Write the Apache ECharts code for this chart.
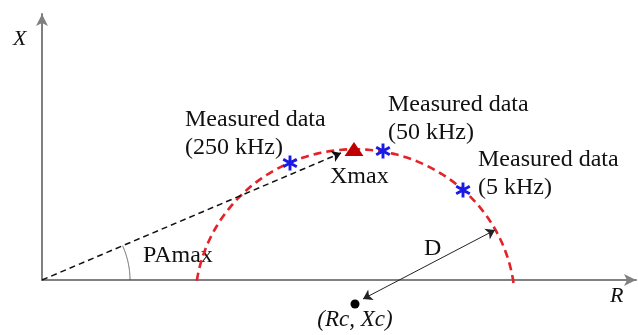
<!DOCTYPE html>
<html>
<head>
<meta charset="utf-8">
<script src="https://cdn.jsdelivr.net/npm/echarts@6/dist/echarts.min.js"></script>
<style>
  html, body { margin: 0; padding: 0; background: #fff; }
  #main { width: 638px; height: 335px; }
</style>
</head>
<body>
<div id="main"></div>
<script>
// 数据（图内坐标，原点在两轴交点）
const circleCenter = [313, -24.8];        // (Rc, Xc)
const circleRadius = 160;                 // D
const circleAngles = [7.8, 172.2];        // 虚线圆弧的起止角度
const measuredPoints = [[248, 121], [341, 133.4], [421, 93]]; // 250k, 50k, 5k
const xmaxPoint = [312, 135.4];
const paLine = [[0, 0], [299, 131.3]];
const dLine = [[321, -19.6], [453, 51.7]];
const angleArc = [0, 0, 88, 0, 23.7];

const serif = "'Liberation Serif', 'Times New Roman', serif";

var myChart = echarts.init(document.getElementById('main'));

// 用坐标系画圆弧
function arcItem(params, api) {
  const cx = api.value(0), cy = api.value(1), r = api.value(2);
  const a0 = api.value(3), a1 = api.value(4);
  const pts = [];
  for (let i = 0; i <= 120; i++) {
    const a = (a0 + (a1 - a0) * i / 120) * Math.PI / 180;
    pts.push(api.coord([cx + r * Math.cos(a), cy + r * Math.sin(a)]));
  }
  return {
    type: 'polyline',
    shape: { points: pts },
    style: api.style({ fill: null })
  };
}

// 蓝色星号
const asterisk = 'path://M-1.3,-7L1.3,-7L1.3,7L-1.3,7Z M5.41,-4.63L6.71,-2.37L-5.41,4.63L-6.71,2.37Z M-6.71,-2.37L-5.41,-4.63L6.71,2.37L5.41,4.63Z';

const axisStyle = {
  type: 'value',
  axisLine: { show: true, lineStyle: { color: '#808080', width: 2 }, symbol: ['none', 'arrow'], symbolSize: [9, 12] },
  axisTick: { show: false }, axisLabel: { show: false }, splitLine: { show: false }
};

var option = {
  animation: false,
  grid: { left: 42, top: 14, width: 594, height: 266 },
  xAxis: Object.assign({ min: 0, max: 594 }, axisStyle),
  yAxis: Object.assign({ min: 0, max: 275 }, axisStyle),
  series: [
    {
      type: 'custom',
      clip: false,
      renderItem: arcItem,
      data: [[circleCenter[0], circleCenter[1], circleRadius, circleAngles[0], circleAngles[1]]],
      itemStyle: { color: 'none', borderColor: '#e4222a', borderWidth: 2.6, borderType: [8, 5] },
      z: 2
    },
    {
      type: 'custom',
      clip: false,
      renderItem: arcItem,
      data: [angleArc],
      itemStyle: { color: 'none', borderColor: '#555', borderWidth: 1 },
      z: 2
    },
    {
      type: 'lines',
      coordinateSystem: 'cartesian2d',
      clip: false,
      symbol: ['none', 'arrow'],
      symbolSize: 9,
      lineStyle: { color: '#111', width: 1.5, type: [6, 4], opacity: 1 },
      data: [{ coords: paLine }],
      z: 3
    },
    {
      type: 'lines',
      coordinateSystem: 'cartesian2d',
      clip: false,
      symbol: ['arrow', 'arrow'],
      symbolSize: 9,
      lineStyle: { color: '#222', width: 1, opacity: 1 },
      data: [{ coords: dLine }],
      z: 3
    },
    {
      type: 'scatter',
      clip: false,
      symbol: asterisk,
      symbolSize: 15,
      itemStyle: { color: '#1a1ae6', opacity: 1 },
      data: measuredPoints,
      z: 4
    },
    {
      type: 'scatter',
      symbol: 'triangle',
      symbolSize: [19, 14],
      itemStyle: { color: '#c00000', opacity: 1 },
      data: [xmaxPoint],
      z: 4
    },
    {
      type: 'scatter',
      clip: false,
      symbol: 'circle',
      symbolSize: 9,
      itemStyle: { color: '#000', opacity: 1 },
      data: [circleCenter],
      z: 4
    }
  ],
  graphic: [
    { type: 'text', x: 13, y: 39, style: { text: 'X', font: 'italic 22px ' + serif, fill: '#111', verticalAlign: 'middle' } },
    { type: 'text', x: 610, y: 296, style: { text: 'R', font: 'italic 22px ' + serif, fill: '#111', verticalAlign: 'middle' } },
    { type: 'text', x: 185, y: 120, style: { text: 'Measured data', font: '24px ' + serif, fill: '#111', verticalAlign: 'middle' } },
    { type: 'text', x: 185, y: 148, style: { text: '(250 kHz)', font: '24px ' + serif, fill: '#111', verticalAlign: 'middle' } },
    { type: 'text', x: 388, y: 105, style: { text: 'Measured data', font: '24px ' + serif, fill: '#111', verticalAlign: 'middle' } },
    { type: 'text', x: 388, y: 133, style: { text: '(50 kHz)', font: '24px ' + serif, fill: '#111', verticalAlign: 'middle' } },
    { type: 'text', x: 478, y: 160, style: { text: 'Measured data', font: '24px ' + serif, fill: '#111', verticalAlign: 'middle' } },
    { type: 'text', x: 478, y: 188, style: { text: '(5 kHz)', font: '24px ' + serif, fill: '#111', verticalAlign: 'middle' } },
    { type: 'text', x: 330, y: 177, style: { text: 'Xmax', font: '24px ' + serif, fill: '#111', verticalAlign: 'middle' } },
    { type: 'text', x: 143, y: 256, style: { text: 'PAmax', font: '24px ' + serif, fill: '#111', verticalAlign: 'middle' } },
    { type: 'text', x: 424, y: 249, style: { text: 'D', font: '24px ' + serif, fill: '#111', verticalAlign: 'middle' } },
    { type: 'text', x: 355, y: 320, style: { text: '(Rc, Xc)', font: 'italic 23px ' + serif, fill: '#111', align: 'center', verticalAlign: 'middle' } }
  ]
};

myChart.setOption(option);
</script>
</body>
</html>
